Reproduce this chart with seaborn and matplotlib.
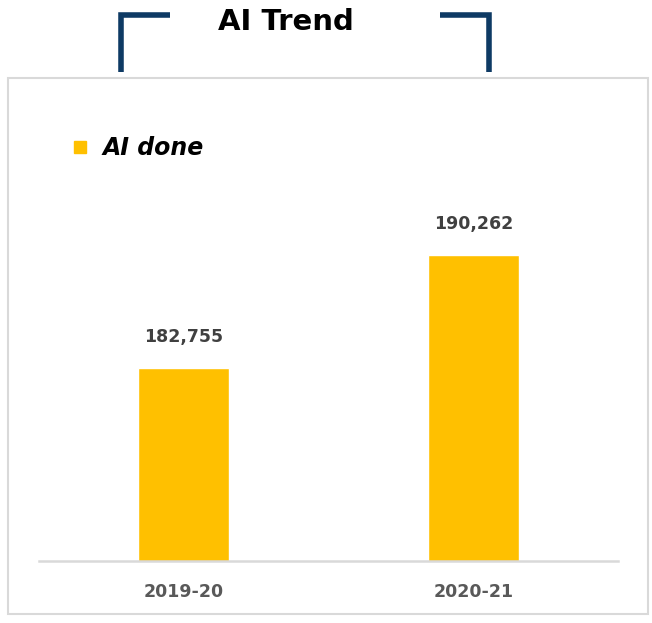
import matplotlib
matplotlib.use("Agg")
import matplotlib.pyplot as plt
import seaborn as sns
import pandas as pd
from matplotlib.lines import Line2D
from matplotlib.patches import Rectangle

categories = ["2019-20", "2020-21"]
values = [182755, 190262]
series_name = "AI done"
title = "AI Trend"

sns.set_style("white")
plt.rcParams['font.family'] = ['DejaVu Sans']

df = pd.DataFrame({"year": categories, "count": values})

W, H = 652, 623
fig = plt.figure(figsize=(W / 100, H / 100), dpi=100)

# panel border
fig.patches.append(Rectangle((8 / W, 1 - 614 / H), (648 - 8) / W, (614 - 78) / H,
                             transform=fig.transFigure, fill=False,
                             edgecolor="#D9D9D9", linewidth=1.5))

ax = fig.add_axes([39 / W, 1 - 561 / H, (618 - 39) / W, (561 - 108) / H])
sns.barplot(data=df, x="year", y="count", color="#FFC000", width=0.314,
            saturation=1, ax=ax)
ax.set_xlim(-0.5, 1.5)
ax.set_ylim(170000, 200000)
for s in ["top", "right", "left"]:
    ax.spines[s].set_visible(False)
ax.spines["bottom"].set_color("#D9D9D9")
ax.spines["bottom"].set_linewidth(1.8)
ax.set_yticks([])
ax.set_xlabel("")
ax.set_ylabel("")
ax.tick_params(axis="x", length=0, pad=16)
for lab in ax.get_xticklabels():
    lab.set_fontweight("bold")
    lab.set_color("#595959")
    lab.set_fontsize(12.5)

for i, v in enumerate(values):
    ax.annotate(f"{v:,}", xy=(i, v), xytext=(0, 16), textcoords="offset points",
                ha="center", va="bottom", fontsize=12.5, fontweight="bold",
                color="#404040")

# legend
handle = Line2D([], [], marker="s", linestyle="none", markersize=8.5,
                color="#FFC000")
leg = fig.legend([handle], [series_name], loc="center left",
                 bbox_to_anchor=(47 / W, 1 - 148 / H), frameon=False,
                 handletextpad=0.45, handlelength=1.0,
                 prop={"weight": "bold", "style": "italic", "size": 17})
for t in leg.get_texts():
    t.set_color("black")

# title and brackets
fig.text(286 / W, 1 - 22 / H, title, ha="center", va="center",
         fontsize=21, fontweight="bold", color="black")
navy = "#0E3A64"
lw = 4
fig.add_artist(Line2D([121 / W, 121 / W, 170 / W], [1 - 72 / H, 1 - 15 / H, 1 - 15 / H],
                      transform=fig.transFigure, color=navy, linewidth=lw,
                      solid_joinstyle="miter", solid_capstyle="butt"))
fig.add_artist(Line2D([440 / W, 489 / W, 489 / W], [1 - 15 / H, 1 - 15 / H, 1 - 72 / H],
                      transform=fig.transFigure, color=navy, linewidth=lw,
                      solid_joinstyle="miter", solid_capstyle="butt"))

fig.savefig("out.png", dpi=100)
